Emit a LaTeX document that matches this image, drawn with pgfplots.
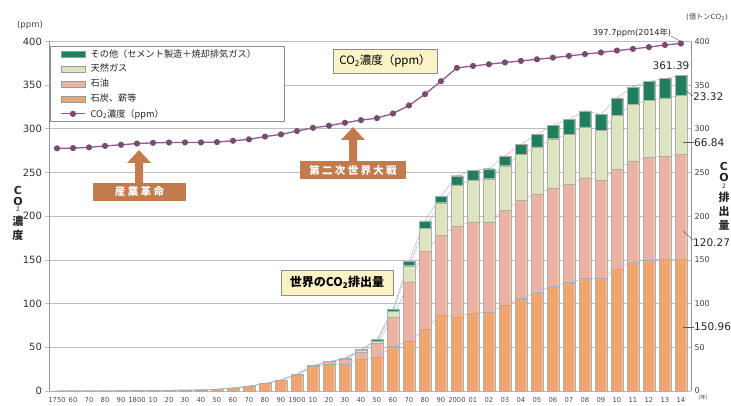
\documentclass[border=0pt]{standalone}
\usepackage{fontspec}
\setmainfont{DejaVu Sans}
\newfontfamily\jp{Noto Sans CJK JP}
\usepackage{pgfplots}
\pgfplotsset{compat=1.18}
\usepackage{pgfplotstable}

\definecolor{coal}{HTML}{F1A670}
\definecolor{oil}{HTML}{ECB3A2}
\definecolor{gas}{HTML}{DDE4BE}
\definecolor{other}{HTML}{1F7F5D}
\definecolor{co2}{HTML}{8E5C86}
\definecolor{co2m}{HTML}{7A4A70}
\definecolor{arrowc}{HTML}{C27B4D}
\definecolor{boxy}{HTML}{FBF3C6}
\definecolor{gridc}{HTML}{BEBEBE}
\definecolor{linkc}{HTML}{A8BCC6}

% index 0..39 = 1750,1760,...,2000,2001,...,2014 ; units: 100 Mt CO2
\pgfplotstableread{
i coal oil gas other
0 0.1 0 0 0
1 0.1 0 0 0
2 0.1 0 0 0
3 0.2 0 0 0
4 0.3 0 0 0
5 0.5 0 0 0
6 0.6 0 0 0
7 0.8 0 0 0
8 1.0 0 0 0
9 1.4 0 0 0
10 2.0 0 0 0
11 3.4 0 0 0
12 5.5 0 0 0
13 8.5 0.1 0 0
14 12.3 0.3 0 0
15 18.6 0.5 0 0
16 28.0 1.0 0 0
17 30.8 2.8 0 0
18 31.0 5.6 0.8 0.3
19 36.6 8.0 2.0 1.0
20 38.5 15.8 3.2 1.5
21 51.5 32.5 6.8 3.2
22 56.5 68.5 18.4 5.3
23 70.6 89.0 26.8 8.3
24 87.0 91.5 37.0 7.5
25 85.0 103.8 47.1 10.5
26 89.6 104.1 48.0 10.5
27 90.0 103.7 49.3 11.4
28 98.4 108.6 50.8 11.4
29 106.0 112.5 52.3 11.8
30 113.6 111.8 54.1 14.2
31 120.5 112.1 56.1 15.6
32 124.0 112.8 57.2 16.8
33 129.0 115.0 58.4 18.3
34 129.0 112.4 57.2 18.0
35 139.0 115.0 61.8 19.8
36 148.0 115.5 64.5 20.2
37 150.0 117.4 65.6 21.3
38 151.0 117.9 66.7 22.2
39 150.96 120.27 66.84 23.32
}\emis

\pgfplotstableread{
i ppm
0 277.7
1 278.0
2 278.8
3 280.5
4 281.8
5 283.2
6 284.0
7 284.4
8 284.5
9 284.5
10 284.9
11 286.4
12 288.0
13 291.2
14 293.7
15 297.5
16 301.2
17 303.6
18 307.0
19 310.0
20 312.3
21 317.6
22 326.8
23 339.7
24 354.6
25 369.8
26 372.0
27 374.0
28 376.0
29 377.8
30 379.6
31 381.5
32 383.5
33 385.6
34 387.4
35 389.6
36 391.5
37 393.6
38 396.0
39 397.7
}\conc

\pgfplotsset{
  base/.style={at={(49.5pt,14pt)}, anchor=south west, scale only axis,
    width=641.5pt, height=349.5pt, xmin=-0.47, xmax=39.63, ymin=0, ymax=400},
  seg/.style={draw=black!32, line width=0.35pt},
}

\begin{document}
\begin{tikzpicture}
\path[use as bounding box] (0,0) rectangle (731pt,405pt);

% ---- background: grid, axis lines, left ticks, x labels, link lines
\begin{axis}[base, stack plots=y,
  separate axis lines,
  x axis line style={draw=none},
  y axis line style={draw=black!42, line width=0.8pt},
  ytick={0,50,...,400}, ymajorgrids,
  grid style={gridc, line width=0.8pt},
  ytick pos=left, tick align=outside, major tick length=4pt,
  ytick style={gridc, line width=0.8pt},
  xtick={0,...,39}, xtick style={draw=none},
  xticklabels={1750,60,70,80,90,1800,10,20,30,40,50,60,70,80,90,1900,10,20,30,40,50,60,70,80,90,2000,01,02,03,04,05,06,07,08,09,10,11,12,13,14},
  x tick label style={font=\fontsize{6.8}{7}\selectfont, text=black!70, inner sep=2pt},
  y tick label style={font=\fontsize{10}{11}\selectfont, text=black!80},
  /pgf/number format/assume math mode=true,
]
\addplot[linkc, line width=0.5pt, no marks] table[x=i,y=coal]{\emis};
\addplot[linkc, line width=0.5pt, no marks] table[x=i,y=oil]{\emis};
\addplot[linkc, line width=0.5pt, no marks] table[x=i,y=gas]{\emis};
\addplot[linkc, line width=0.5pt, no marks] table[x=i,y=other]{\emis};
\end{axis}

% ---- stacked bars
\begin{axis}[base, hide axis, ybar stacked, bar width=11.5pt]
\addplot[fill=coal, seg] table[x=i,y=coal]{\emis};
\addplot[fill=oil, seg] table[x=i,y=oil]{\emis};
\addplot[fill=gas, seg] table[x=i,y=gas]{\emis};
\addplot[fill=other, seg] table[x=i,y=other]{\emis};
\end{axis}

% ---- CO2 concentration line, right axis, legend
\begin{axis}[base, axis x line=none, axis y line*=right,
  y axis line style={draw=none}, ytick={0,50,...,400}, ytick style={draw=none},
  y tick label style={font=\fontsize{8}{9}\selectfont, text=black!75},
  /pgf/number format/assume math mode=true,
  legend cell align=left,
  legend style={at={(0.0008,0.987)}, anchor=north west, draw=black!45,
    line width=0.6pt, fill=white, inner xsep=10pt, inner ysep=0pt,
    font=\jp\fontsize{9.2}{10}\selectfont, text=black!85,
    nodes={inner sep=0pt, minimum height=15pt}, column sep=5pt},
]
\addlegendimage{legend image code/.code={\draw[fill=other, draw=black!40, line width=0.4pt] (0pt,-3pt) rectangle (24pt,3pt);}}
\addlegendentry{その他（セメント製造＋焼却排気ガス）\rule{18pt}{0pt}}
\addlegendimage{legend image code/.code={\draw[fill=gas, draw=black!40, line width=0.4pt] (0pt,-3pt) rectangle (24pt,3pt);}}
\addlegendentry{天然ガス}
\addlegendimage{legend image code/.code={\draw[fill=oil, draw=black!40, line width=0.4pt] (0pt,-3pt) rectangle (24pt,3pt);}}
\addlegendentry{石油}
\addlegendimage{legend image code/.code={\draw[fill=coal, draw=black!40, line width=0.4pt] (0pt,-3pt) rectangle (24pt,3pt);}}
\addlegendentry{石炭、薪等}
\addplot[co2, line width=1.3pt, mark=*, mark size=2.4pt, mark options={fill=co2m, draw=co2m},
  legend image code/.code={\draw[co2, line width=1.3pt] (0pt,0pt) -- (24pt,0pt); \fill[co2m] (12pt,0pt) circle (2.4pt);}]
  table[x=i,y=ppm]{\conc};
\addlegendentry{CO\textsubscript{2}濃度（ppm）}
\end{axis}

% ---- annotations (pixel coordinates, y downward)
\begin{scope}[x=1pt, y=-1pt, yshift=405pt]
% boxes
\node[draw=black!45, fill=boxy, line width=0.6pt, minimum width=104pt, minimum height=24pt, inner sep=0pt]
  at (385,61) {\jp\fontsize{11.5}{12}\selectfont CO\textsubscript{2}濃度（ppm）};
\node[draw=black!45, fill=boxy, line width=0.6pt, minimum width=112pt, minimum height=25pt, inner sep=0pt]
  at (337,282.5) {\jp\bfseries\fontsize{12}{13}\selectfont 世界のCO\textsubscript{2}排出量};
% arrows
\fill[arrowc] (135,184) -- (135,163) -- (127,163) -- (139,150) -- (151,163) -- (143,163) -- (143,184) -- cycle;
\node[fill=arrowc, text=white, minimum width=93pt, minimum height=18pt, inner sep=0pt]
  at (139.5,192) {\jp\bfseries\fontsize{10.5}{11}\selectfont 産\hspace{2.5pt}業\hspace{2.5pt}革\hspace{2.5pt}命};
\fill[arrowc] (349,162) -- (349,140) -- (341,140) -- (353,127) -- (365,140) -- (357,140) -- (357,162) -- cycle;
\node[fill=arrowc, text=white, minimum width=106pt, minimum height=18pt, inner sep=0pt]
  at (353,170) {\jp\bfseries\fontsize{10.5}{11}\selectfont 第\hspace{2.3pt}二\hspace{2.3pt}次\hspace{2.3pt}世\hspace{2.3pt}界\hspace{2.3pt}大\hspace{2.3pt}戦};
% axis unit labels
\node[text=black!75] at (30,25) {\fontsize{8.5}{9}\selectfont (ppm)};
\node[text=black!75] at (707,17) {\fontsize{7.2}{8}\selectfont ({\jp 億トン}CO\textsubscript{2})};
\node[text=black!75] at (703,398) {\jp\fontsize{5.5}{6}\selectfont (年)};
% right annotations
\node[text=black!85] at (632,33) {\fontsize{8.3}{9}\selectfont 397.7ppm(2014{\jp 年})};
\draw[black!60, line width=0.5pt] (671,36) -- (680,41);
\node[text=black!85] at (671,66) {\fontsize{10.5}{11}\selectfont 361.39};
\draw[black!65, line width=0.5pt] (683,89) -- (693,96);
\node[anchor=west, inner sep=0pt, text=black!85] at (693,97) {\fontsize{10.5}{11}\selectfont 23.32};
\draw[black!65, line width=0.5pt] (683,142.5) -- (694,142.5);
\node[anchor=west, inner sep=0pt, text=black!85] at (694,143) {\fontsize{10.5}{11}\selectfont 66.84};
\draw[black!65, line width=0.5pt] (683,231) -- (693,240);
\node[anchor=west, inner sep=0pt, text=black!85] at (693,243) {\fontsize{10.5}{11}\selectfont 120.27};
\draw[black!65, line width=0.5pt] (683,327) -- (694,327);
\node[anchor=west, inner sep=0pt, text=black!85] at (694,327) {\fontsize{10.5}{11}\selectfont 150.96};
% vertical axis titles
\begin{scope}[every node/.style={inner sep=0pt, text=black!85}]
\node at (18,190) {\bfseries\fontsize{11}{12}\selectfont C};
\node at (18,201) {\bfseries\fontsize{11}{12}\selectfont O};
\node at (18,209.5) {\fontsize{6}{6}\selectfont 2};
\node at (18,221) {\jp\bfseries\fontsize{11}{12}\selectfont 濃};
\node at (18,235) {\jp\bfseries\fontsize{11}{12}\selectfont 度};
\node at (724,166) {\bfseries\fontsize{11}{12}\selectfont C};
\node at (724,177) {\bfseries\fontsize{11}{12}\selectfont O};
\node at (724,186) {\fontsize{6}{6}\selectfont 2};
\node at (724,197) {\jp\bfseries\fontsize{11}{12}\selectfont 排};
\node at (724,211) {\jp\bfseries\fontsize{11}{12}\selectfont 出};
\node at (724,225) {\jp\bfseries\fontsize{11}{12}\selectfont 量};
\end{scope}
\end{scope}
\end{tikzpicture}
\end{document}
